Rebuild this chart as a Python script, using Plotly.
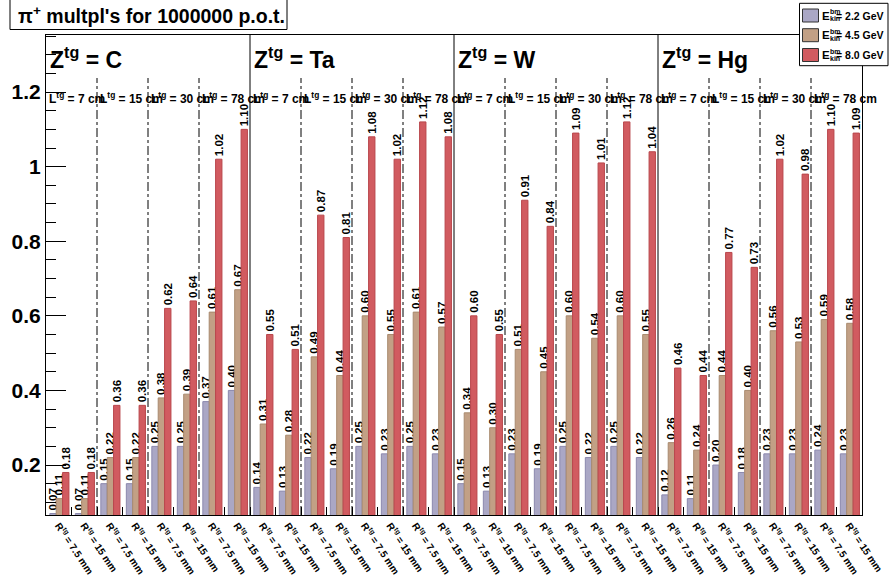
import plotly.graph_objects as go

# ---------------- data ----------------
targets = ["C", "Ta", "W", "Hg"]
lengths_cm = ["7", "15", "30", "78"]
radii_mm = ["7.5", "15"]
energies = ["2.2", "4.5", "8.0"]

# order: target -> length -> radius (7.5, 15)
mult_e22 = [0.07, 0.07, 0.15, 0.15, 0.25, 0.25, 0.37, 0.40,
            0.14, 0.13, 0.22, 0.19, 0.25, 0.23, 0.25, 0.23,
            0.15, 0.13, 0.23, 0.19, 0.25, 0.22, 0.25, 0.22,
            0.12, 0.11, 0.20, 0.18, 0.23, 0.23, 0.24, 0.23]
mult_e45 = [0.11, 0.11, 0.22, 0.22, 0.38, 0.39, 0.61, 0.67,
            0.31, 0.28, 0.49, 0.44, 0.60, 0.55, 0.61, 0.57,
            0.34, 0.30, 0.51, 0.45, 0.60, 0.54, 0.60, 0.55,
            0.26, 0.24, 0.44, 0.40, 0.56, 0.53, 0.59, 0.58]
mult_e80 = [0.18, 0.18, 0.36, 0.36, 0.62, 0.64, 1.02, 1.10,
            0.55, 0.51, 0.87, 0.81, 1.08, 1.02, 1.12, 1.08,
            0.60, 0.55, 0.91, 0.84, 1.09, 1.01, 1.12, 1.04,
            0.46, 0.44, 0.77, 0.73, 1.02, 0.98, 1.10, 1.09]

tick_labels = ["R<sup>tg</sup> = %s mm" % r for t in targets for l in lengths_cm for r in radii_mm]

# ---------------- style ----------------
FONT = "Liberation Sans, Arial, Helvetica, sans-serif"
fills = ["#aaa7c5", "#c2a085", "#d15b60"]
edges = ["#8b88ad", "#a88a6e", "#b9474c"]
offsets = [-0.35, -0.10, 0.15]

# plot area in pixels
PL, PR, PT, PB = 46, 862, 35, 515
W, H = 889, 578


def px(x):
    return (x - PL) / (PR - PL)


def py(y):
    return (PB - y) / (PB - PT)


ncat = len(tick_labels)
xs = list(range(ncat))
series = [mult_e22, mult_e45, mult_e80]

fig = go.Figure()
for vals, col, ecol, off in zip(series, fills, edges, offsets):
    fig.add_trace(go.Bar(
        x=xs, y=vals, width=0.25, offset=off,
        marker=dict(color=col, line=dict(color=ecol, width=1)),
        text=["%.2f" % v for v in vals],
        textposition="outside", textangle=-90, constraintext="none",
        textfont=dict(family=FONT, size=11.5, color="black", weight="bold"),
        cliponaxis=False, showlegend=False,
    ))

shapes = []
annotations = []

# separators between targets (solid) and between lengths (dash-dot)
ng = len(targets)
nl = len(lengths_cm)
nr = len(radii_mm)
for g in range(ng):
    gstart = g * nl * nr - 0.5
    if g > 0:
        shapes.append(dict(type="line", xref="x", yref="paper", x0=gstart, x1=gstart,
                           y0=0, y1=1, line=dict(color="black", width=1)))
    annotations.append(dict(xref="x", yref="paper", x=gstart, xshift=2, y=py(58),
                            xanchor="left", yanchor="middle", showarrow=False,
                            text="Z<sup>tg</sup> = %s" % targets[g],
                            font=dict(family=FONT, size=23, color="black", weight="bold")))
    for li in range(nl):
        lstart = gstart + li * nr
        if li > 0:
            shapes.append(dict(type="line", xref="x", yref="paper", x0=lstart, x1=lstart,
                               y0=0, y1=py(78), line=dict(color="black", width=1, dash="dashdot")))
        annotations.append(dict(xref="x", yref="paper", x=lstart, xshift=1, y=py(98),
                                xanchor="left", yanchor="middle", showarrow=False,
                                text="L<sup>tg</sup> = %s cm" % lengths_cm[li],
                                font=dict(family=FONT, size=12, color="black", weight="bold")))

# title box
shapes.append(dict(type="rect", xref="paper", yref="paper", x0=px(10), x1=px(287),
                   y0=py(29.5), y1=py(-2), line=dict(color="black", width=1), fillcolor="white", layer="above"))
annotations.append(dict(xref="paper", yref="paper", x=px(16), y=py(15), xanchor="left", yanchor="middle",
                        showarrow=False, text="π<sup>+</sup> multpl's for 1000000 p.o.t.",
                        font=dict(family=FONT, size=19.5, color="black", weight="bold")))

# legend box (drawn by hand to match stacked sub/superscripts)
shapes.append(dict(type="rect", xref="paper", yref="paper", x0=px(799.5), x1=px(888),
                   y0=py(65.7), y1=py(3.3), line=dict(color="black", width=1), fillcolor="white", layer="above"))
rows = [15.5, 35.2, 55.0]
for e, col, ecol, yc in zip(energies, fills, edges, rows):
    shapes.append(dict(type="rect", xref="paper", yref="paper", x0=px(802.5), x1=px(818.5),
                       y0=py(yc + 6.5), y1=py(yc - 6.5), line=dict(color="#333333", width=1),
                       fillcolor=col, layer="above"))
    annotations.append(dict(xref="paper", yref="paper", x=px(820), y=py(yc), xanchor="left", yanchor="middle",
                            showarrow=False, text="E",
                            font=dict(family=FONT, size=11.5, color="black", weight="bold")))
    annotations.append(dict(xref="paper", yref="paper", x=px(827.5), y=py(yc - 3.8), xanchor="left",
                            yanchor="middle", showarrow=False, text="bm",
                            font=dict(family=FONT, size=7, color="black", weight="bold")))
    annotations.append(dict(xref="paper", yref="paper", x=px(827.5), y=py(yc + 3.2), xanchor="left",
                            yanchor="middle", showarrow=False, text="kin",
                            font=dict(family=FONT, size=7, color="black", weight="bold")))
    annotations.append(dict(xref="paper", yref="paper", x=px(834), y=py(yc), xanchor="left", yanchor="middle",
                            showarrow=False, text="= %s GeV" % e,
                            font=dict(family=FONT, size=10.5, color="black", weight="bold")))

yticks = [0.2, 0.4, 0.6, 0.8, 1.0, 1.2]
yticktext = ["0.2", "0.4", "0.6", "0.8", "1", "1.2"]

fig.update_layout(
    width=W, height=H,
    margin=dict(l=PL, r=W - PR, t=PT, b=H - PB, autoexpand=False),
    paper_bgcolor="white", plot_bgcolor="white",
    barmode="overlay", showlegend=False,
    font=dict(family=FONT, color="black", weight="bold"),
    shapes=shapes, annotations=annotations,
    xaxis=dict(range=[-0.5, ncat - 0.5], tickmode="array", tickvals=xs, ticktext=tick_labels,
               tickangle=56, ticks="", showgrid=False, zeroline=False, automargin=False,
               showline=True, mirror=True, linecolor="black", linewidth=1,
               tickfont=dict(family=FONT, size=10, color="black", weight="bold"),
               minor=dict(tickmode="array", tickvals=[i + 0.5 for i in range(ncat - 1)],
                          ticks="inside", ticklen=8, tickcolor="black", showgrid=False)),
    yaxis=dict(range=[0.066, 1.353], tickmode="array", tickvals=yticks, ticktext=yticktext,
               ticks="inside", ticklen=20, tickcolor="black", showgrid=False, zeroline=False, automargin=False,
               showline=True, mirror=True, linecolor="black", linewidth=1,
               tickfont=dict(family=FONT, size=21, color="black", weight="bold"),
               minor=dict(dtick=0.05, tick0=0, ticks="inside", ticklen=10, tickcolor="black", showgrid=False)),
)

fig.write_html("out.html", config={"displayModeBar": False},
               post_script="document.body.style.margin='0px';document.body.style.overflow='hidden';")
